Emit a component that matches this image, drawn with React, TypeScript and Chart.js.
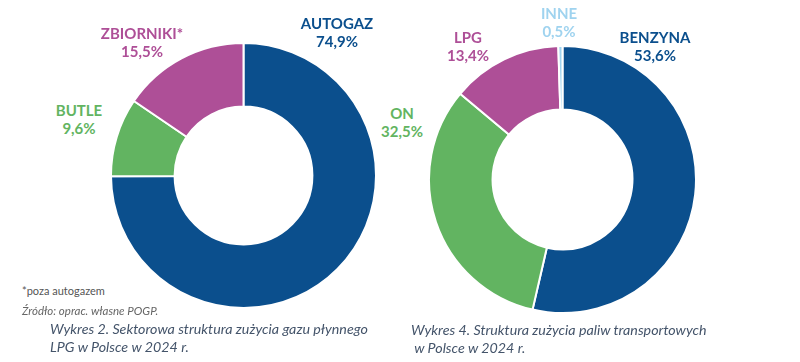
import React, { useEffect, useRef } from "react";
import { Chart, registerables } from "chart.js";

Chart.register(...registerables);

// ---- Data ----
const lpgCategories = ["AUTOGAZ", "BUTLE", "ZBIORNIKI*"];
const lpgValues = [74.9, 9.6, 15.5];
const lpgLabels = ["74,9%", "9,6%", "15,5%"];

const fuelCategories = ["BENZYNA", "ON", "LPG", "INNE"];
const fuelValues = [53.6, 32.5, 13.4, 0.5];
const fuelLabels = ["53,6%", "32,5%", "13,4%", "0,5%"];

const lpgColors = ["#0b4f8d", "#62b461", "#ae4f97"];
const fuelColors = ["#0b4f8d", "#62b461", "#ae4f97", "#9fd3ef"];

const captionLeft = ["Wykres 2. Sektorowa struktura zużycia gazu płynnego", "LPG w Polsce w 2024 r."];
const captionRight = ["Wykres 4. Struktura zużycia paliw transportowych", " w Polsce w 2024 r."];
const footnote = "*poza autogazem";
const source = "Źródło: oprac. własne POGP.";

type DonutProps = {
  labels: string[];
  values: number[];
  colors: string[];
  size: number;
  left: number;
  top: number;
  cutout: string;
};

function Donut({ labels, values, colors, size, left, top, cutout }: DonutProps) {
  const ref = useRef<HTMLCanvasElement | null>(null);
  useEffect(() => {
    if (!ref.current) return;
    const chart = new Chart(ref.current, {
      type: "doughnut",
      data: {
        labels,
        datasets: [
          {
            data: values,
            backgroundColor: colors,
            borderColor: "#ffffff",
            borderWidth: 2,
            hoverOffset: 0,
          },
        ],
      },
      options: {
        responsive: false,
        animation: false,
        cutout,
        events: [],
        plugins: { legend: { display: false }, tooltip: { enabled: false } },
        layout: { padding: 0 },
      },
    });
    return () => chart.destroy();
  }, []);
  return (
    <canvas
      ref={ref}
      width={size}
      height={size}
      style={{ position: "absolute", left, top, width: size, height: size }}
    />
  );
}

function Label({ x, y, name, value, color }: { x: number; y: number; name: string; value: string; color: string }) {
  return (
    <div
      style={{
        position: "absolute",
        left: x,
        top: y,
        transform: "translate(-50%, -50%)",
        textAlign: "center",
        color,
        fontFamily: "Lato, sans-serif",
        fontWeight: 700,
        fontSize: 15,
        lineHeight: "18px",
        whiteSpace: "nowrap",
      }}
    >
      <div>{name}</div>
      <div>{value}</div>
    </div>
  );
}

const captionStyle: React.CSSProperties = {
  position: "absolute",
  fontFamily: "Lato, sans-serif",
  fontStyle: "italic",
  fontSize: 14.25,
  lineHeight: "18px",
  color: "#44546a",
  whiteSpace: "pre",
};

export default function App() {
  return (
    <div
      style={{
        position: "fixed",
        left: 0,
        top: 0,
        width: 800,
        height: 362,
        background: "#ffffff",
        overflow: "hidden",
      }}
    >
      <Donut labels={lpgCategories} values={lpgValues} colors={lpgColors} size={267} left={110} top={42} cutout="52%" />
      <Donut labels={fuelCategories} values={fuelValues} colors={fuelColors} size={269} left={428} top={45} cutout="52.4%" />

      <Label x={337} y={32} name={lpgCategories[0]} value={lpgLabels[0]} color={lpgColors[0]} />
      <Label x={79} y={119} name={lpgCategories[1]} value={lpgLabels[1]} color={lpgColors[1]} />
      <Label x={142} y={42} name={lpgCategories[2]} value={lpgLabels[2]} color={lpgColors[2]} />

      <Label x={655} y={46} name={fuelCategories[0]} value={fuelLabels[0]} color={fuelColors[0]} />
      <Label x={402} y={122} name={fuelCategories[1]} value={fuelLabels[1]} color={fuelColors[1]} />
      <Label x={468} y={46} name={fuelCategories[2]} value={fuelLabels[2]} color={fuelColors[2]} />
      <Label x={559} y={22} name={fuelCategories[3]} value={fuelLabels[3]} color={fuelColors[3]} />

      <div style={{ position: "absolute", left: 22, top: 284, fontFamily: "Lato, sans-serif", fontSize: 11, color: "#555", whiteSpace: "nowrap" }}>
        {footnote}
      </div>
      <div style={{ position: "absolute", left: 22, top: 304, fontFamily: "Lato, sans-serif", fontStyle: "italic", fontSize: 11.5, color: "#666", whiteSpace: "nowrap" }}>
        {source}
      </div>

      <div style={{ ...captionStyle, left: 50, top: 320 }}>
        {captionLeft[0]}
        {"\n"}
        {captionLeft[1]}
      </div>
      <div style={{ ...captionStyle, left: 411, top: 321 }}>
        {captionRight[0]}
        {"\n"}
        {captionRight[1]}
      </div>
    </div>
  );
}
